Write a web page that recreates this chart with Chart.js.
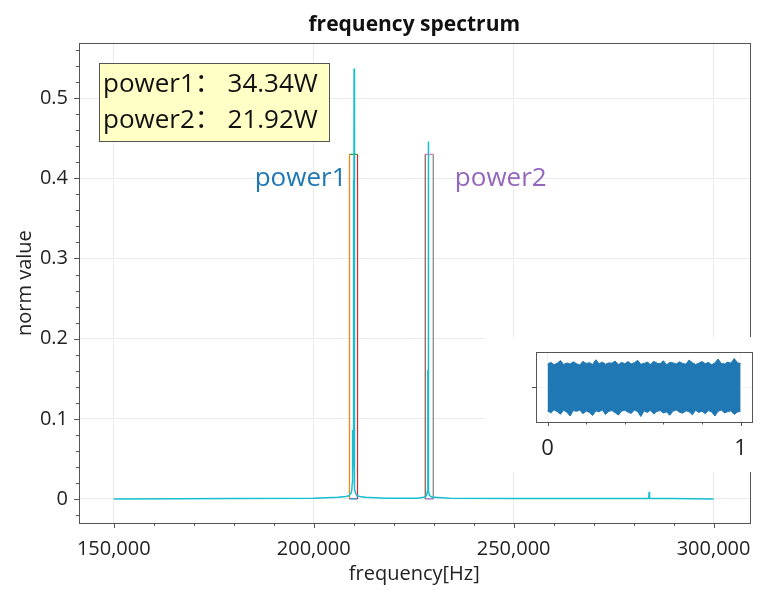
<!DOCTYPE html>
<html>
<head>
<meta charset="utf-8">
<script src="https://cdn.jsdelivr.net/npm/chart.js@4.4.1/dist/chart.umd.min.js"></script>
<style>
  body { margin: 0; background: #fff; }
  #wrap { position: relative; width: 760px; height: 590px; }
  #inset { position: absolute; left: 485px; top: 337px; background: #fff; }
</style>
</head>
<body>
<div id="wrap">
  <canvas id="main" width="760" height="590"></canvas>
  <canvas id="inset" width="272" height="135"></canvas>
</div>
<script>
// spectrum (Hz / normalised value)
const specFreq = [150000, 180000, 200000, 206000, 208000, 208800, 209300, 209500, 209650, 209700,
  209750, 209850, 209900, 209950, 210000, 210050, 210100, 210150, 210250, 210500,
  210900, 211500, 213000, 218000, 226000, 227500, 228000, 228300, 228450, 228550,
  228600, 228650, 228700, 228750, 228900, 229300, 230000, 234000, 250000, 283800,
  283900, 284000, 300000];
const specValue = [0, 0.0005, 0.001, 0.002, 0.003, 0.004, 0.007, 0.01, 0.02, 0.086,
  0.03, 0.05, 0.398, 0.06, 0.39, 0.04, 0.537, 0.03, 0.012, 0.007,
  0.004, 0.003, 0.002, 0.001, 0.001, 0.002, 0.003, 0.006, 0.01, 0.161,
  0.02, 0.446, 0.15, 0.01, 0.005, 0.003, 0.002, 0.001, 0.0005, 0.001,
  0.009, 0.001, 0];

// power windows
const rectNames = ['power1', 'power2'];
const rectLow = [208950, 227900];
const rectHigh = [210950, 229900];
const rectTop = [0.43, 0.43];
const powerWatts = ['34.34W', '21.92W'];

// ticks
const xMajor = [150000, 200000, 250000, 300000];
const xMinor = [160000, 170000, 180000, 190000, 210000, 220000, 230000, 240000, 260000, 270000, 280000, 290000];
const yMajor = [0, 0.1, 0.2, 0.3, 0.4, 0.5];
const yMinor = [-0.02, 0.02, 0.04, 0.06, 0.08, 0.12, 0.14, 0.16, 0.18, 0.22, 0.24, 0.26, 0.28,
  0.32, 0.34, 0.36, 0.38, 0.42, 0.44, 0.46, 0.48, 0.52, 0.54, 0.56];

// inset time signal envelope
const sigTime = [0, 0.017, 0.033, 0.05, 0.067, 0.083, 0.1, 0.117, 0.133, 0.15,
  0.167, 0.183, 0.2, 0.217, 0.233, 0.25, 0.267, 0.283, 0.3, 0.317,
  0.333, 0.35, 0.367, 0.383, 0.4, 0.417, 0.433, 0.45, 0.467, 0.483,
  0.5, 0.517, 0.533, 0.55, 0.567, 0.583, 0.6, 0.617, 0.633, 0.65,
  0.667, 0.683, 0.7, 0.717, 0.733, 0.75, 0.767, 0.783, 0.8, 0.817,
  0.833, 0.85, 0.867, 0.883, 0.9, 0.917, 0.933, 0.95, 0.967, 0.983, 1];
const sigUpper = [0.88, 0.95, 0.86, 0.92, 1.02, 0.87, 0.93, 0.89, 0.97, 0.90,
  0.85, 0.99, 0.91, 0.94, 0.87, 1.05, 0.90, 0.96, 0.88, 0.93,
  0.92, 1.00, 0.86, 0.95, 0.90, 0.98, 0.89, 0.94, 1.03, 0.88,
  0.91, 0.96, 0.87, 0.99, 0.92, 0.90, 1.01, 0.86, 0.95, 0.93,
  0.89, 0.97, 0.91, 0.88, 1.04, 0.94, 0.87, 0.92, 0.98, 0.90,
  0.95, 0.86, 0.93, 1.08, 0.91, 0.89, 0.96, 0.92, 1.10, 0.94, 0.90];
const sigLower = [-0.92, -1.00, -0.88, -0.95, -1.05, -0.90, -0.97, -1.12, -0.91, -0.94,
  -0.89, -1.03, -0.93, -0.98, -1.10, -0.92, -0.96, -0.88, -1.06, -0.94,
  -0.91, -0.99, -1.08, -0.93, -0.90, -0.97, -1.02, -0.89, -0.95, -1.14,
  -0.92, -0.98, -0.90, -1.04, -0.94, -0.91, -1.00, -0.96, -1.09, -0.93,
  -0.89, -0.97, -1.01, -0.92, -0.95, -1.07, -0.90, -0.98, -0.93, -1.03,
  -0.91, -0.96, -1.12, -0.94, -0.89, -1.00, -0.95, -0.92, -1.06, -0.97, -0.93];
const insetXMajor = [0, 1];
const insetXMinor = [0.2, 0.4, 0.6, 0.8];
const insetYMajor = [0];

const family = "'Open Sans', 'Noto Sans CJK SC', sans-serif";
Chart.defaults.font.family = family;
Chart.defaults.color = '#222';

const spineColor = '#555';
const rectColors = [
  ['#1f77b4', '#ff7f0e', '#2ca02c', '#d62728'],
  ['#9467bd', '#8c564b', '#e377c2', '#7f7f7f']
];

// box + outward tick marks like matplotlib
function makeFrame(xMaj, yMaj, majLen, minLen) {
  return {
    id: 'frame',
    afterDraw(chart) {
      const {ctx, chartArea: a, scales: {x, y}} = chart;
      ctx.save();
      ctx.strokeStyle = spineColor;
      ctx.lineWidth = 1;
      ctx.beginPath();
      x.ticks.forEach(t => {
        const px = Math.round(x.getPixelForValue(t.value)) + 0.5;
        const len = xMaj.includes(t.value) ? majLen : minLen;
        ctx.moveTo(px, a.bottom);
        ctx.lineTo(px, a.bottom + len);
      });
      y.ticks.forEach(t => {
        const py = Math.round(y.getPixelForValue(t.value)) + 0.5;
        const len = yMaj.includes(t.value) ? majLen : minLen;
        ctx.moveTo(a.left, py);
        ctx.lineTo(a.left - len, py);
      });
      ctx.stroke();
      ctx.strokeRect(Math.round(a.left) + 0.5, Math.round(a.top) + 0.5,
        Math.round(a.right - a.left), Math.round(a.bottom - a.top));
      ctx.restore();
    }
  };
}

// labels and the power box
const notes = {
  id: 'notes',
  afterDatasetsDraw(chart) {
    const {ctx, chartArea: a, scales: {x, y}} = chart;
    ctx.save();
    ctx.font = '26px ' + family;
    ctx.textBaseline = 'middle';
    ctx.fillStyle = rectColors[0][0];
    ctx.textAlign = 'right';
    ctx.fillText(rectNames[0], x.getPixelForValue(208200), y.getPixelForValue(0.4));
    ctx.fillStyle = rectColors[1][0];
    ctx.textAlign = 'left';
    ctx.fillText(rectNames[1], x.getPixelForValue(235300), y.getPixelForValue(0.4));

    const bx = Math.round(a.left) + 20, by = Math.round(a.top) + 20;
    ctx.fillStyle = '#ffffc6';
    ctx.fillRect(bx, by, 230, 78);
    ctx.strokeStyle = spineColor;
    ctx.strokeRect(bx + 0.5, by + 0.5, 230, 78);
    ctx.fillStyle = '#111';
    ctx.textBaseline = 'alphabetic';
    rectNames.forEach((n, i) => {
      ctx.fillText(n + '： ' + powerWatts[i], bx + 4, by + 29 + i * 36);
    });
    ctx.restore();
  }
};

// rectangle sides as separate lines (bottom, left, top, right)
const rectSets = [];
rectNames.forEach((n, i) => {
  const l = rectLow[i], r = rectHigh[i], t = rectTop[i];
  const sides = [
    [{x: l, y: 0}, {x: r, y: 0}],
    [{x: l, y: 0}, {x: l, y: t}],
    [{x: l, y: t}, {x: r, y: t}],
    [{x: r, y: t}, {x: r, y: 0}]
  ];
  sides.forEach((pts, k) => {
    rectSets.push({
      label: n + ' side ' + k,
      data: pts,
      borderColor: rectColors[i][k],
      borderWidth: 1.2,
      pointRadius: 0,
      order: 1
    });
  });
});

const gridColor = '#ebebeb';

new Chart(document.getElementById('main'), {
  type: 'line',
  data: {
    datasets: [{
      label: 'spectrum',
      data: specFreq.map((f, i) => ({x: f, y: specValue[i]})),
      borderColor: '#17becf',
      borderWidth: 1.5,
      pointRadius: 0,
      order: 0
    }].concat(rectSets)
  },
  plugins: [makeFrame(xMajor, yMajor, 5, 3), notes],
  options: {
    responsive: false,
    animation: false,
    devicePixelRatio: 1,
    layout: {padding: {left: 0, right: 6, top: 0, bottom: 0}},
    plugins: {
      legend: {display: false},
      tooltip: {enabled: false},
      title: {
        display: true,
        fullSize: false,
        text: 'frequency spectrum',
        color: '#111',
        font: {size: 21, weight: 'bold'},
        padding: {top: 12, bottom: 6}
      }
    },
    scales: {
      x: {
        type: 'linear',
        min: 141300,
        max: 309000,
        afterBuildTicks: s => { s.ticks = xMajor.concat(xMinor).sort((a, b) => a - b).map(v => ({value: v})); },
        afterFit: s => { s.height = 67; },
        ticks: {
          autoSkip: false,
          maxRotation: 0,
          padding: 9,
          font: {size: 20},
          callback: v => xMajor.includes(v) ? v.toLocaleString('en-US') : ''
        },
        grid: {
          color: c => (c.tick && xMajor.includes(c.tick.value)) ? gridColor : 'transparent',
          tickColor: 'transparent',
          tickLength: 5
        },
        border: {display: false},
        title: {
          display: true,
          text: 'frequency[Hz]',
          font: {size: 20},
          padding: {top: 0, bottom: 4}
        }
      },
      y: {
        min: -0.03,
        max: 0.5686,
        afterBuildTicks: s => { s.ticks = yMajor.concat(yMinor).sort((a, b) => a - b).map(v => ({value: v})); },
        afterFit: s => { s.width = 79; },
        ticks: {
          autoSkip: false,
          padding: 6,
          font: {size: 20},
          callback: v => yMajor.includes(v) ? (v === 0 ? '0' : v.toFixed(1)) : ''
        },
        grid: {
          color: c => (c.tick && yMajor.includes(c.tick.value)) ? gridColor : 'transparent',
          tickColor: 'transparent',
          tickLength: 5
        },
        border: {display: false},
        title: {
          display: true,
          text: 'norm value',
          font: {size: 20},
          padding: {top: 13, bottom: 0}
        }
      }
    }
  }
});

new Chart(document.getElementById('inset'), {
  type: 'line',
  data: {
    datasets: [{
      label: 'upper',
      data: sigTime.map((t, i) => ({x: t, y: sigUpper[i]})),
      borderColor: '#1f77b4',
      backgroundColor: '#1f77b4',
      borderWidth: 1,
      pointRadius: 0,
      fill: '+1'
    }, {
      label: 'lower',
      data: sigTime.map((t, i) => ({x: t, y: sigLower[i]})),
      borderColor: '#1f77b4',
      borderWidth: 1,
      pointRadius: 0,
      fill: false
    }]
  },
  plugins: [makeFrame(insetXMajor, insetYMajor, 4, 2.5)],
  options: {
    responsive: false,
    animation: false,
    devicePixelRatio: 1,
    layout: {padding: {left: 0, right: 2, top: 15, bottom: 0}},
    plugins: {legend: {display: false}, tooltip: {enabled: false}},
    scales: {
      x: {
        type: 'linear',
        min: -0.06,
        max: 1.06,
        afterBuildTicks: s => { s.ticks = insetXMajor.concat(insetXMinor).sort((a, b) => a - b).map(v => ({value: v})); },
        afterFit: s => { s.height = 50; },
        ticks: {
          autoSkip: false,
          maxRotation: 0,
          padding: 10,
          font: {size: 22},
          callback: v => insetXMajor.includes(v) ? String(v) : ''
        },
        grid: {
          color: c => (c.tick && insetXMajor.includes(c.tick.value)) ? '#f3f3f3' : 'transparent',
          tickColor: 'transparent',
          tickLength: 4
        },
        border: {display: false}
      },
      y: {
        min: -1.35,
        max: 1.35,
        afterBuildTicks: s => { s.ticks = insetYMajor.map(v => ({value: v})); },
        afterFit: s => { s.width = 51; },
        ticks: {callback: () => ''},
        grid: {color: '#f3f3f3', tickColor: 'transparent', tickLength: 4},
        border: {display: false}
      }
    }
  }
});
</script>
</body>
</html>
